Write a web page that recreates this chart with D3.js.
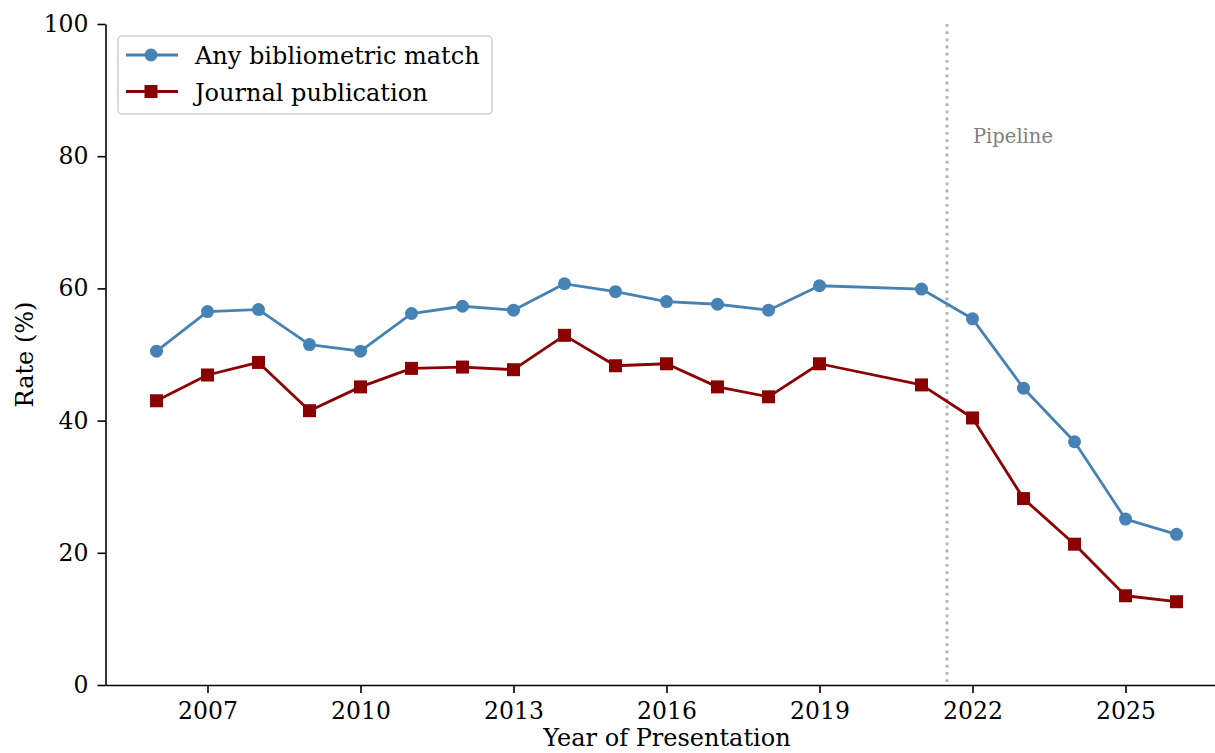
<!DOCTYPE html>
<html>
<head>
<meta charset="utf-8">
<script src="https://cdn.jsdelivr.net/npm/d3@7"></script>
<style>
  html, body { margin: 0; padding: 0; background: #fff; }
  svg { display: block; font-family: "DejaVu Serif", serif; }
</style>
</head>
<body>
<svg id="chart" width="1215" height="753"></svg>
<script>
// Presentation years (no 2020 cohort)
const years = [2006, 2007, 2008, 2009, 2010, 2011, 2012, 2013, 2014, 2015,
               2016, 2017, 2018, 2019, 2021, 2022, 2023, 2024, 2025, 2026];
// Rate (%) of abstracts with any bibliometric match
const anyMatch = [50.5, 56.5, 56.8, 51.5, 50.5, 56.2, 57.3, 56.7, 60.7, 59.5,
                  58.0, 57.6, 56.7, 60.4, 59.9, 55.4, 44.9, 36.8, 25.1, 22.8];
// Rate (%) of abstracts followed by a journal publication
const journalPub = [43.0, 46.9, 48.8, 41.5, 45.1, 47.9, 48.1, 47.7, 52.9, 48.3,
                    48.6, 45.1, 43.6, 48.6, 45.4, 40.4, 28.2, 21.3, 13.5, 12.6];
const xTicks = [2007, 2010, 2013, 2016, 2019, 2022, 2025];
const yTicks = [0, 20, 40, 60, 80, 100];
const pipelineStart = 2021.5;

const svg = d3.select("#chart");
const plotLeft = 105.5, plotRight = 1227.5, plotTop = 24, plotBottom = 685;

const x = d3.scaleLinear().domain([2005, 2027]).range([plotLeft, plotRight]);
const y = d3.scaleLinear().domain([0, 100]).range([plotBottom, plotTop]);

// Axes
const xAxis = svg.append("g")
  .attr("transform", `translate(0,${plotBottom})`)
  .call(d3.axisBottom(x).tickValues(xTicks).tickFormat(d3.format("d")).tickSize(8).tickSizeOuter(0).tickPadding(9));
const yAxis = svg.append("g")
  .attr("transform", `translate(${plotLeft},0)`)
  .call(d3.axisLeft(y).tickValues(yTicks).tickSize(8).tickSizeOuter(0).tickPadding(9));
[xAxis, yAxis].forEach(g => {
  g.select(".domain").attr("stroke", "#000").attr("stroke-width", 1.6);
  g.selectAll(".tick line").attr("stroke", "#000").attr("stroke-width", 1.6);
  g.selectAll(".tick text").attr("fill", "#000").style("font-size", "23.5px").style("font-family", "DejaVu Serif");
});

// Axis titles
svg.append("text")
  .attr("x", 667).attr("y", 746)
  .attr("text-anchor", "middle")
  .style("font-size", "24px").text("Year of Presentation");
svg.append("text")
  .attr("transform", `translate(33,${(plotTop + plotBottom) / 2}) rotate(-90)`)
  .attr("text-anchor", "middle")
  .style("font-size", "24px").text("Rate (%)");

// Pipeline marker
svg.append("line")
  .attr("x1", x(pipelineStart)).attr("x2", x(pipelineStart))
  .attr("y1", y(100)).attr("y2", y(0))
  .attr("stroke", "#b0b0b0").attr("stroke-width", 2.8)
  .attr("stroke-dasharray", "2.8,4.4");
svg.append("text")
  .attr("x", x(pipelineStart) + 26).attr("y", 143)
  .attr("fill", "#808080").style("font-size", "19.5px").text("Pipeline");

// Series
const seriesList = [
  { name: "Any bibliometric match", values: anyMatch, color: "#4682b4", shape: "circle" },
  { name: "Journal publication", values: journalPub, color: "#8b0000", shape: "square" }
];

const line = d3.line().x(d => x(d[0])).y(d => y(d[1]));

function drawMarker(g, shape, color, cx, cy) {
  if (shape === "circle") {
    g.append("circle").attr("cx", cx).attr("cy", cy).attr("r", 6.5).attr("fill", color);
  } else {
    g.append("rect").attr("x", cx - 6.5).attr("y", cy - 6.5)
      .attr("width", 13).attr("height", 13).attr("fill", color);
  }
}

seriesList.forEach(s => {
  const pts = years.map((yr, i) => [yr, s.values[i]]);
  svg.append("path").datum(pts)
    .attr("d", line).attr("fill", "none")
    .attr("stroke", s.color).attr("stroke-width", 2.8)
    .attr("stroke-linejoin", "round");
  const mg = svg.append("g");
  pts.forEach(p => drawMarker(mg, s.shape, s.color, x(p[0]), y(p[1])));
});

// Legend
const legend = svg.append("g").attr("transform", "translate(118,36)");
legend.append("rect")
  .attr("x", 0).attr("y", 0).attr("width", 374).attr("height", 78)
  .attr("rx", 4).attr("fill", "#fff").attr("fill-opacity", 0.8)
  .attr("stroke", "#d0d0d0").attr("stroke-width", 1.5);
seriesList.forEach((s, i) => {
  const cy = 19 + i * 36.5;
  legend.append("line").attr("x1", 8).attr("x2", 60).attr("y1", cy).attr("y2", cy)
    .attr("stroke", s.color).attr("stroke-width", 2.8);
  drawMarker(legend, s.shape, s.color, 33, cy);
  legend.append("text").attr("x", 77).attr("y", cy + 9)
    .style("font-size", "24px").attr("fill", "#000").text(s.name);
});
</script>
</body>
</html>
